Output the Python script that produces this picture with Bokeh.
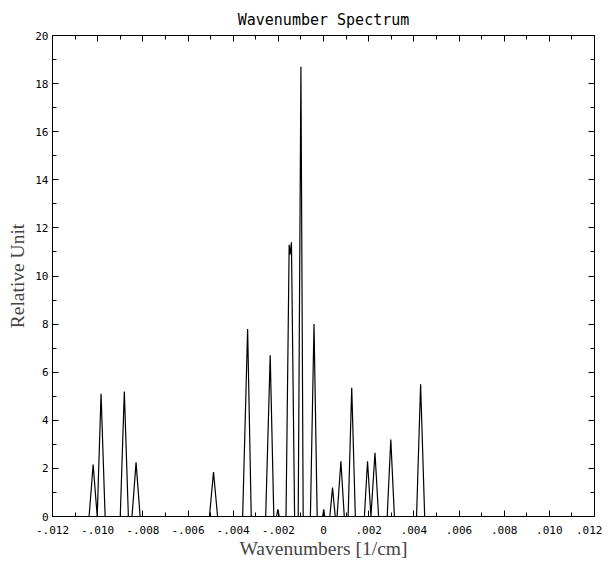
from bokeh.plotting import figure
from bokeh.models import Range1d, LinearAxis, FixedTicker
from bokeh.embed import file_html
from bokeh.resources import INLINE

# Spectrum polyline vertices (wavenumber in 1/cm, relative unit)
wavenumber = [-0.012, -0.01038, -0.0102, -0.01002, -0.00985, -0.00967,
              -0.00900, -0.00882, -0.00864, -0.00848, -0.0083, -0.00812,
              -0.00505, -0.00487, -0.00469,
              -0.00358, -0.00336, -0.00320,
              -0.00256, -0.00236, -0.00220,
              -0.00208, -0.00202, -0.00196,
              -0.00166, -0.00152, -0.00148, -0.00142, -0.00128,
              -0.00112, -0.00100, -0.00090,
              -0.00058, -0.00042, -0.00028,
              -0.00004, 0.00001, 0.00006,
              0.00028, 0.00040, 0.00052, 0.00060, 0.00077, 0.00092,
              0.00109, 0.00125, 0.00141,
              0.00181, 0.00195, 0.00210, 0.00228, 0.00244,
              0.00282, 0.00298, 0.00314,
              0.00412, 0.00430, 0.00448, 0.012]
amplitude = [0, 0, 2.16, 0, 5.1, 0,
             0, 5.2, 0, 0, 2.25, 0,
             0, 1.85, 0,
             0, 7.8, 0,
             0, 6.7, 0,
             0, 0.3, 0,
             0, 11.3, 10.9, 11.4, 0,
             0, 18.7, 0,
             0, 8.0, 0,
             0, 0.3, 0,
             0, 1.2, 0, 0, 2.3, 0,
             0, 5.35, 0,
             0, 2.3, 0, 2.65, 0,
             0, 3.2, 0,
             0, 5.5, 0, 0]

x_tick_values = [-0.012, -0.010, -0.008, -0.006, -0.004, -0.002, 0.0,
                 0.002, 0.004, 0.006, 0.008, 0.010, 0.012]
x_tick_labels = ["-.012", "-.010", "-.008", "-.006", "-.004", "-.002", "0",
                 ".002", ".004", ".006", ".008", ".010", ".012"]
x_minor_values = [-0.011, -0.009, -0.007, -0.005, -0.003, -0.001,
                  0.001, 0.003, 0.005, 0.007, 0.009, 0.011]
y_tick_values = [0, 2, 4, 6, 8, 10, 12, 14, 16, 18, 20]
y_minor_values = [1, 3, 5, 7, 9, 11, 13, 15, 17, 19]

title_text = "Wavenumber Spectrum"
x_label = "Wavenumbers [1/cm]"
y_label = "Relative Unit"

p = figure(width=602, height=561, output_backend="svg", toolbar_location=None,
           x_range=Range1d(-0.012, 0.012), y_range=Range1d(0, 20),
           x_axis_location=None, y_axis_location=None,
           min_border_left=52, min_border_right=8, min_border_top=35,
           min_border_bottom=44)

p.title.text = title_text
p.title.align = "center"
p.title.text_font = "DejaVu Sans Mono"
p.title.text_font_style = "normal"
p.title.text_font_size = "15px"
p.title.text_color = "black"
p.title.text_line_height = 1.0
p.title.standoff = 14

p.xgrid.visible = False
p.ygrid.visible = False
p.outline_line_color = "black"
p.outline_line_width = 1
p.background_fill_color = "white"
p.border_fill_color = "white"

xt = FixedTicker(ticks=x_tick_values, minor_ticks=x_minor_values)
yt = FixedTicker(ticks=y_tick_values, minor_ticks=y_minor_values)
overrides = {v: l for v, l in zip(x_tick_values, x_tick_labels)}


def style(ax, labels=True):
    ax.axis_line_color = "black"
    ax.major_tick_line_color = "black"
    ax.minor_tick_line_color = "black"
    ax.major_tick_in = 6
    ax.major_tick_out = 0
    ax.minor_tick_in = 4
    ax.minor_tick_out = 0
    ax.major_label_text_font = "DejaVu Sans Mono"
    ax.major_label_text_font_size = "11px"
    ax.major_label_text_color = "black"
    ax.major_label_standoff = 4
    if not labels:
        ax.major_label_text_alpha = 0
        ax.major_label_text_font_size = "0px"
        ax.major_label_standoff = 0


bottom = LinearAxis(ticker=xt, major_label_overrides=overrides,
                    axis_label=x_label)
style(bottom)
bottom.major_label_standoff = 9
bottom.axis_label_text_font = "Liberation Serif"
bottom.axis_label_text_font_style = "normal"
bottom.axis_label_text_font_size = "19.5px"
bottom.axis_label_standoff = 1
p.add_layout(bottom, "below")

left = LinearAxis(ticker=yt, axis_label=y_label)
style(left)
left.axis_label_text_font = "Liberation Serif"
left.axis_label_text_font_style = "normal"
left.axis_label_text_font_size = "19.5px"
left.axis_label_standoff = 4
p.add_layout(left, "left")

top = LinearAxis(ticker=xt)
style(top, labels=False)
p.add_layout(top, "above")

right = LinearAxis(ticker=yt)
style(right, labels=False)
p.add_layout(right, "right")

p.line(wavenumber, amplitude, line_color="black", line_width=1.2)

open("out.html", "w").write(file_html(p, INLINE))
